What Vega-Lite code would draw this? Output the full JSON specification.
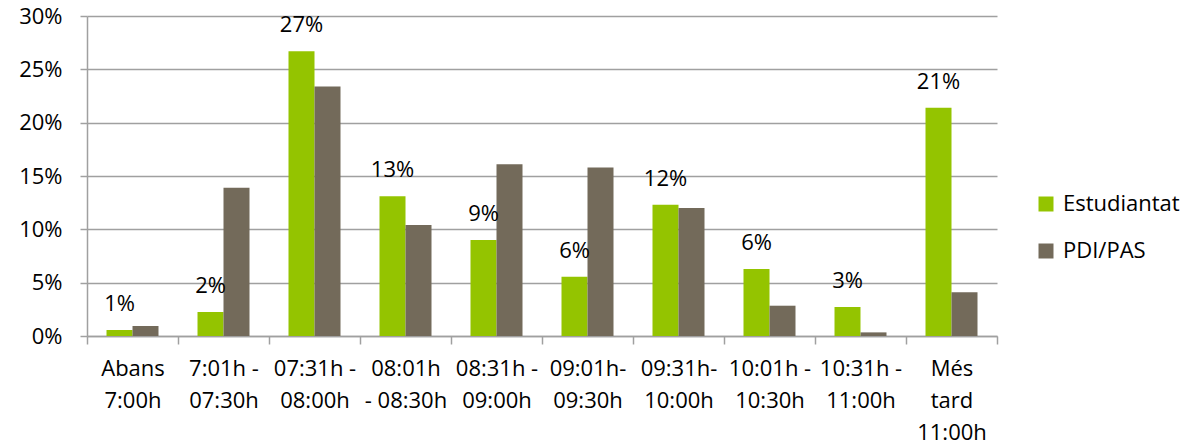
{
  "$schema": "https://vega.github.io/schema/vega-lite/v6.json",
  "width": 910,
  "height": 320,
  "autosize": "none",
  "padding": {"left": 87, "top": 16, "right": 191, "bottom": 111},
  "background": "white",
  "config": {
    "font": "Open Sans",
    "view": {"stroke": null},
    "axis": {"labelFont": "Open Sans", "labelColor": "#000000", "labelFontSize": 22, "labelFontWeight": "normal"},
    "legend": {"labelFont": "Open Sans", "labelColor": "#000000", "padding": 0}
  },
  "data": {
    "values": [
      {"franja": "Abans\n7:00h", "col": "Estudiantat", "pct": 0.0056},
      {"franja": "Abans\n7:00h", "col": "PDI/PAS", "pct": 0.0094},
      {"franja": "7:01h -\n07:30h", "col": "Estudiantat", "pct": 0.0225},
      {"franja": "7:01h -\n07:30h", "col": "PDI/PAS", "pct": 0.139},
      {"franja": "07:31h -\n08:00h", "col": "Estudiantat", "pct": 0.267},
      {"franja": "07:31h -\n08:00h", "col": "PDI/PAS", "pct": 0.234},
      {"franja": "08:01h\n- 08:30h", "col": "Estudiantat", "pct": 0.131},
      {"franja": "08:01h\n- 08:30h", "col": "PDI/PAS", "pct": 0.104},
      {"franja": "08:31h -\n09:00h", "col": "Estudiantat", "pct": 0.090},
      {"franja": "08:31h -\n09:00h", "col": "PDI/PAS", "pct": 0.161},
      {"franja": "09:01h-\n09:30h", "col": "Estudiantat", "pct": 0.0556},
      {"franja": "09:01h-\n09:30h", "col": "PDI/PAS", "pct": 0.158},
      {"franja": "09:31h-\n10:00h", "col": "Estudiantat", "pct": 0.123},
      {"franja": "09:31h-\n10:00h", "col": "PDI/PAS", "pct": 0.120},
      {"franja": "10:01h -\n10:30h", "col": "Estudiantat", "pct": 0.0628},
      {"franja": "10:01h -\n10:30h", "col": "PDI/PAS", "pct": 0.0284},
      {"franja": "10:31h -\n11:00h", "col": "Estudiantat", "pct": 0.0272},
      {"franja": "10:31h -\n11:00h", "col": "PDI/PAS", "pct": 0.0034},
      {"franja": "Més\ntard\n11:00h", "col": "Estudiantat", "pct": 0.214},
      {"franja": "Més\ntard\n11:00h", "col": "PDI/PAS", "pct": 0.0409}
    ]
  },
  "encoding": {
    "x": {
      "field": "franja", "type": "nominal", "sort": null,
      "scale": {"paddingInner": 0, "paddingOuter": 0},
      "axis": {
        "title": null, "labelAngle": 0, "tickBand": "extent", "tickSize": 8,
        "tickColor": "#A0A0A0", "domainColor": "#A0A0A0", "domainWidth": 1.5, "tickWidth": 1.5,
        "labelExpr": "split(datum.label, '\\n')", "labelLineHeight": 32,
        "labelPadding": 14, "labelBaseline": "top"
      }
    },
    "xOffset": {"field": "col", "type": "nominal", "scale": {"paddingOuter": 0.75, "paddingInner": 0}},
    "y": {
      "field": "pct", "type": "quantitative",
      "scale": {"domain": [0, 0.3], "nice": false},
      "axis": {
        "title": null, "values": [0, 0.05, 0.1, 0.15, 0.2, 0.25, 0.3], "format": ".0%",
        "gridColor": "#A0A0A0", "gridWidth": 1.5, "tickColor": "#A0A0A0", "tickWidth": 1.5,
        "tickSize": 7, "domainColor": "#A0A0A0", "domainWidth": 1.5, "labelPadding": 18
      }
    }
  },
  "layer": [
    {
      "mark": {"type": "bar"},
      "encoding": {
        "color": {
          "field": "col", "type": "nominal",
          "scale": {"domain": ["Estudiantat", "PDI/PAS"], "range": ["#94C400", "#736A5A"]},
          "legend": {
            "title": null, "orient": "none", "legendX": 948, "legendY": 177,
            "symbolType": "square", "symbolSize": 225, "symbolStrokeWidth": 0,
            "labelFontSize": 22, "rowPadding": 25, "labelOffset": 6
          }
        }
      }
    },
    {
      "transform": [{"filter": "datum.col === 'Estudiantat'"}],
      "mark": {"type": "text", "fontSize": 22, "baseline": "alphabetic", "dy": -19, "color": "#000000"},
      "encoding": {
        "text": {"field": "pct", "type": "quantitative", "format": ".0%"}
      }
    }
  ]
}
